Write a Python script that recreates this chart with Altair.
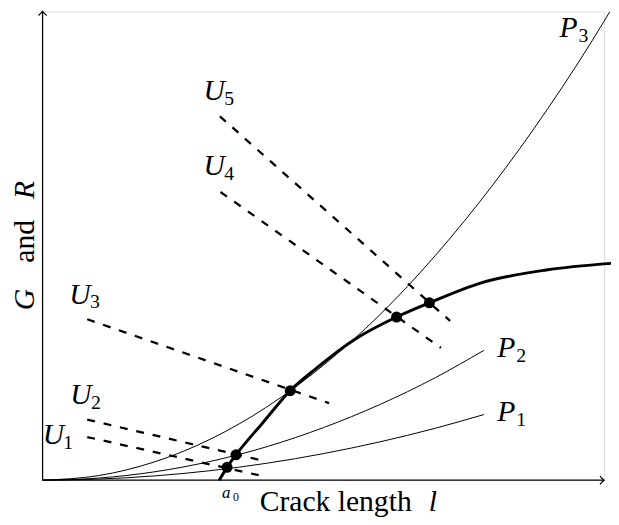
import altair as alt
import pandas as pd

# ---- data (x: crack length units, y: G / R units) ----
p_x = [0, 1, 2, 3, 4, 5, 6, 7, 7.86]
p1_y = [0, 0.023, 0.091, 0.204, 0.362, 0.566, 0.815, 1.109, 1.40]
p2_y = [0, 0.045, 0.179, 0.403, 0.716, 1.12, 1.61, 2.19, 2.77]
p3_x = [0, 1, 2, 3, 4, 5, 6, 7, 8, 9, 10, 10.1]
p3_y = [0, 0.098, 0.392, 0.881, 1.567, 2.45, 3.52, 4.80, 6.27, 7.93, 9.79, 9.99]

r_x = [3.146, 3.286, 3.445, 3.919, 4.411, 4.868, 5.571, 6.304, 6.889, 7.798, 8.968, 10.123]
r_y = [0.0, 0.274, 0.541, 1.221, 1.909, 2.379, 3.011, 3.480, 3.783, 4.204, 4.484, 4.625]

u_names = ["U1", "U2", "U3", "U4", "U5"]
u_x_start = [0.796, 0.796, 0.796, 3.169, 3.158]
u_y_start = [0.920, 1.291, 3.432, 6.147, 7.762]
u_x_end = [3.931, 3.931, 5.102, 7.095, 7.258]
u_y_end = [0.084, 0.415, 1.642, 2.821, 3.396]

dot_x = [3.286, 3.445, 4.411, 6.304, 6.889]
dot_y = [0.274, 0.541, 1.909, 3.480, 3.783]

lab_text = ["U", "U", "U", "U", "U", "P", "P", "P"]
lab_sub = ["1", "2", "3", "4", "5", "1", "2", "3"]
lab_x = [0.193, 0.685, 0.668, 3.058, 3.058, 8.260, 8.260, 9.367]
lab_y = [0.968, 1.811, 3.958, 6.695, 8.295, 1.453, 2.821, 9.650]

# ---- tables ----
curves = pd.concat([
    pd.DataFrame({"x": p_x, "y": p1_y, "c": "P1"}),
    pd.DataFrame({"x": p_x, "y": p2_y, "c": "P2"}),
    pd.DataFrame({"x": p3_x, "y": p3_y, "c": "P3"}),
], ignore_index=True)
rdf = pd.DataFrame({"x": r_x, "y": r_y})
udf = pd.concat([
    pd.DataFrame({"x": u_x_start, "y": u_y_start, "u": u_names, "o": 0}),
    pd.DataFrame({"x": u_x_end, "y": u_y_end, "u": u_names, "o": 1}),
], ignore_index=True)
dots = pd.DataFrame({"x": dot_x, "y": dot_y})
labels = pd.DataFrame({"x": lab_x, "y": lab_y, "t": lab_text, "s": lab_sub})
axes_df = pd.DataFrame({"x": [0, 0], "y": [0, 0], "x2": [10, 0], "y2": [0, 10]})
xtip = pd.DataFrame({"x": [10], "y": [0]})
ytip = pd.DataFrame({"x": [0], "y": [10]})
xtitle = pd.DataFrame({"x": [5.220], "y": [-0.47], "t": ["Crack length"]})
xtitle_l = pd.DataFrame({"x": [6.95], "y": [-0.47], "t": ["l"]})
a0 = pd.DataFrame({"x": [3.269], "y": [-0.27], "t": ["a"], "s": ["0"]})
ytitle_it = pd.DataFrame({"x": [-0.316, -0.316], "y": [3.853, 6.189], "t": ["G", "R"]})
ytitle_rm = pd.DataFrame({"x": [-0.316], "y": [5.095], "t": ["and"]})

xs = alt.Scale(domain=[0, 10], nice=False, zero=False)
ys = alt.Scale(domain=[0, 10], nice=False, zero=False)
X = alt.X("x:Q", scale=xs, axis=None)
Y = alt.Y("y:Q", scale=ys, axis=None)
FONT = "Liberation Serif"
BLACK = "#000000"

arrow_path = "M -1 -1 Q -0.35 -0.25 0 0 Q -0.35 0.25 -1 1"

layers = [
    alt.Chart(axes_df).mark_rule(color=BLACK, strokeWidth=1.2).encode(
        x=X, y=Y, x2="x2:Q", y2="y2:Q"),
    alt.Chart(xtip).mark_point(shape=arrow_path, filled=False, size=70, color=BLACK,
                               strokeWidth=1.2, opacity=1).encode(x=X, y=Y),
    alt.Chart(ytip).mark_point(shape=arrow_path, filled=False, size=70, color=BLACK,
                               strokeWidth=1.2, angle=270, opacity=1).encode(x=X, y=Y),
    alt.Chart(curves).mark_line(color=BLACK, strokeWidth=1, interpolate="monotone").encode(
        x=X, y=Y, detail="c:N"),
    alt.Chart(rdf).mark_line(color=BLACK, strokeWidth=3, interpolate="monotone").encode(x=X, y=Y),
    alt.Chart(udf).mark_line(color=BLACK, strokeWidth=2.3, strokeDash=[8, 9]).encode(
        x=X, y=Y, detail="u:N", order="o:Q"),
    alt.Chart(dots).mark_circle(color=BLACK, size=125, opacity=1).encode(x=X, y=Y),
    alt.Chart(labels).mark_text(font=FONT, fontSize=30, fontStyle="italic", color=BLACK,
                                align="center", baseline="middle").encode(x=X, y=Y, text="t:N"),
    alt.Chart(labels).mark_text(font=FONT, fontSize=20, color=BLACK, dx=15, dy=8,
                                align="center", baseline="middle").encode(x=X, y=Y, text="s:N"),
    alt.Chart(xtitle).mark_text(font=FONT, fontSize=30, color=BLACK,
                                align="center", baseline="middle").encode(x=X, y=Y, text="t:N"),
    alt.Chart(xtitle_l).mark_text(font=FONT, fontSize=30, fontStyle="italic", color=BLACK,
                                  align="center", baseline="middle").encode(x=X, y=Y, text="t:N"),
    alt.Chart(a0).mark_text(font=FONT, fontSize=17, fontStyle="italic", color=BLACK,
                            align="center", baseline="middle").encode(x=X, y=Y, text="t:N"),
    alt.Chart(a0).mark_text(font=FONT, fontSize=12, color=BLACK, dx=10, dy=4,
                            align="center", baseline="middle").encode(x=X, y=Y, text="s:N"),
    alt.Chart(ytitle_it).mark_text(font=FONT, fontSize=30, fontStyle="italic", color=BLACK,
                                   angle=270, align="center", baseline="middle").encode(
        x=X, y=Y, text="t:N"),
    alt.Chart(ytitle_rm).mark_text(font=FONT, fontSize=30, color=BLACK,
                                   angle=270, align="center", baseline="middle").encode(
        x=X, y=Y, text="t:N"),
]

chart = alt.layer(*layers).properties(
    width=569, height=475,
    autosize=alt.AutoSizeParams(type="none"),
    padding={"left": 35, "top": 0, "right": 7, "bottom": 42},
).configure_view(stroke=None).configure(background="white")

chart.save("out.html", embed_options={"renderer": "svg", "actions": False})
